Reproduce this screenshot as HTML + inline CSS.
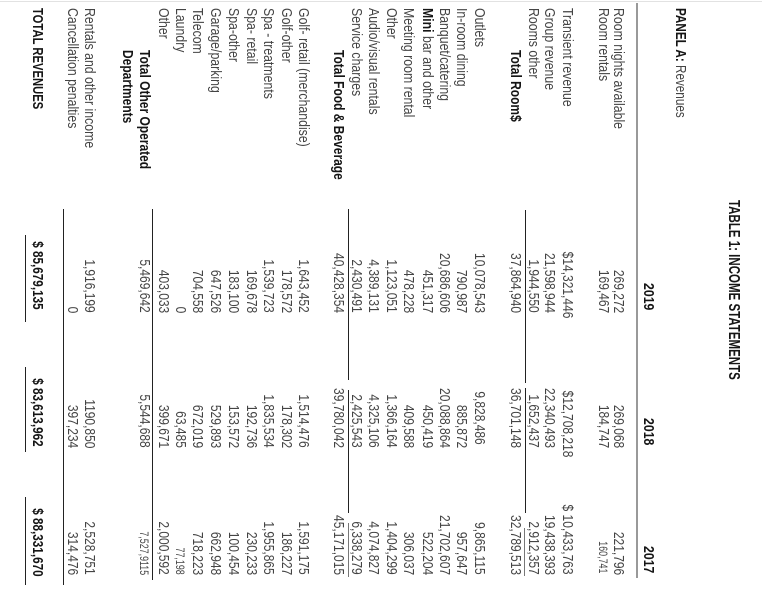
<!DOCTYPE html>
<html><head><meta charset="utf-8">
<style>
html,body{margin:0;padding:0;background:#fff;}
body{width:762px;height:592px;overflow:hidden;position:relative;font-family:"Liberation Sans",Arial,sans-serif;}
#topline{position:absolute;left:0;top:1px;width:762px;height:1px;background:#e2e2e2;}
#r{position:absolute;left:0;top:0;width:592px;height:762px;transform-origin:0 0;transform:translate(762px,0) rotate(90deg);}
.t{position:absolute;white-space:nowrap;font-size:15px;line-height:16px;height:16px;color:#444;}
.l{transform-origin:0 50%;transform:scaleX(.82);}
.lb{transform-origin:0 50%;transform:scaleX(.80);font-weight:bold;color:#151515;}
.n{transform-origin:100% 50%;transform:scaleX(.80);text-align:right;}
.nb{transform-origin:100% 50%;transform:scaleX(.78);text-align:right;font-weight:bold;color:#151515;}
.s{font-size:12px;transform:scaleX(.74);}
.ln{position:absolute;height:1px;background:#222;}
.g{background:#777;}
</style></head><body>
<div id="topline"></div>
<div id="r">
<div class="t" style="top:21px;left:200px;font-size:16px;font-weight:bold;color:#151515;transform-origin:0 50%;transform:scaleX(.72);">TABLE 1: INCOME STATEMENTS</div>
<div class="t" style="top:74px;left:8px;font-size:15px;transform-origin:0 50%;transform:scaleX(.78);color:#444;"><b style="color:#151515">PANEL A:</b> Revenues</div>
<div class="t nb" style="top:106px;right:282px;transform:scaleX(.82);">2019</div>
<div class="t nb" style="top:106px;right:147px;transform:scaleX(.82);">2018</div>
<div class="t nb" style="top:106px;right:19px;transform:scaleX(.82);">2017</div>
<div class="ln g" style="top:124px;left:3px;width:575px;height:2px;background:#999;"></div>

<div class="t l" style="top:136px;left:8px;">Room nights available</div>
<div class="t n" style="top:136px;right:279px;">269,272</div>
<div class="t n" style="top:136px;right:144px;">269,068</div>
<div class="t n" style="top:136px;right:17px;">221,796</div>

<div class="t l" style="top:151px;left:8px;">Room rentals</div>
<div class="t n" style="top:151px;right:279px;">169,467</div>
<div class="t n" style="top:151px;right:144px;">184,747</div>
<div class="t n s" style="top:151px;right:19px;">160,741</div>

<div class="t l" style="top:187px;left:8px;">Transient revenue</div>
<div class="t n" style="top:187px;right:274px;">$14,321,446</div>
<div class="t n" style="top:187px;right:135px;">$12,708,218</div>
<div class="t n" style="top:187px;right:17px;">$ 10,433,763</div>

<div class="t l" style="top:205px;left:8px;">Group revenue</div>
<div class="t n" style="top:205px;right:279px;">21,598,944</div>
<div class="t n" style="top:205px;right:144px;">22,340,493</div>
<div class="t n" style="top:205px;right:17px;">19,438,393</div>

<div class="t l" style="top:221px;left:8px;">Rooms other</div>
<div class="t n" style="top:221px;right:279px;">1,944,550</div>
<div class="t n" style="top:221px;right:144px;">1,652,437</div>
<div class="t n" style="top:221px;right:17px;">2,912,357</div>
<div class="ln" style="top:236px;left:210px;width:173px;"></div>
<div class="ln" style="top:236px;left:388px;width:125px;"></div>
<div class="ln g" style="top:237px;left:528px;width:48px;"></div>

<div class="t lb" style="top:239px;left:50px;">Total Room$</div>
<div class="t n" style="top:239px;right:279px;">37,864,940</div>
<div class="t n" style="top:239px;right:144px;">36,701,148</div>
<div class="t n" style="top:239px;right:17px;">32,789,513</div>

<div class="t l" style="top:275px;left:8px;">Outlets</div>
<div class="t n" style="top:275px;right:279px;">10,078,543</div>
<div class="t n" style="top:275px;right:147px;">9,828,486</div>
<div class="t n" style="top:275px;right:17px;">9,865,115</div>

<div class="t l" style="top:293px;left:8px;">In-room dining</div>
<div class="t n" style="top:293px;right:279px;">790,987</div>
<div class="t n" style="top:293px;right:144px;">885,872</div>
<div class="t n" style="top:293px;right:17px;">957,647</div>

<div class="t l" style="top:310px;left:8px;">Banquet/catering</div>
<div class="t n" style="top:310px;right:279px;">20,686,606</div>
<div class="t n" style="top:310px;right:144px;">20,088,864</div>
<div class="t n" style="top:310px;right:17px;">21,702,607</div>

<div class="t l" style="top:327px;left:8px;"><b style="color:#151515">Mini</b> bar and other</div>
<div class="t n" style="top:327px;right:279px;">451,317</div>
<div class="t n" style="top:327px;right:144px;">450,419</div>
<div class="t n" style="top:327px;right:17px;">522,204</div>

<div class="t l" style="top:346px;left:8px;">Meeting room rental</div>
<div class="t n" style="top:346px;right:279px;">478,228</div>
<div class="t n" style="top:346px;right:144px;">409,588</div>
<div class="t n" style="top:346px;right:17px;">306,037</div>

<div class="t l" style="top:363px;left:8px;">Other</div>
<div class="t n" style="top:363px;right:279px;">1,123,051</div>
<div class="t n" style="top:363px;right:144px;">1,366,164</div>
<div class="t n" style="top:363px;right:17px;">1,404,299</div>

<div class="t l" style="top:381px;left:8px;">Audio/visual rentals</div>
<div class="t n" style="top:381px;right:279px;">4,389,131</div>
<div class="t n" style="top:381px;right:144px;">4,325,106</div>
<div class="t n" style="top:381px;right:17px;">4,074,827</div>

<div class="t l" style="top:398px;left:8px;">Service charges</div>
<div class="t n" style="top:398px;right:279px;">2,430,491</div>
<div class="t n" style="top:398px;right:144px;">2,425,543</div>
<div class="t n" style="top:398px;right:17px;">6,338,279</div>
<div class="ln" style="top:413px;left:209px;width:171px;"></div>
<div class="ln" style="top:413px;left:390px;width:123px;"></div>
<div class="ln g" style="top:413px;left:523px;width:54px;"></div>

<div class="t lb" style="top:416px;left:50px;">Total Food &amp; Beverage</div>
<div class="t n" style="top:416px;right:279px;">40,428,354</div>
<div class="t n" style="top:416px;right:144px;">39,780,042</div>
<div class="t n" style="top:416px;right:17px;">45,171,015</div>

<div class="t l" style="top:451px;left:8px;">Golf- retail (merchandise)</div>
<div class="t n" style="top:451px;right:279px;">1,643,452</div>
<div class="t n" style="top:451px;right:144px;">1,514,476</div>
<div class="t n" style="top:451px;right:17px;">1,591,175</div>

<div class="t l" style="top:468px;left:8px;">Golf-other</div>
<div class="t n" style="top:468px;right:279px;">178,572</div>
<div class="t n" style="top:468px;right:144px;">178,302</div>
<div class="t n" style="top:468px;right:17px;">186,227</div>

<div class="t l" style="top:486px;left:8px;">Spa - treatments</div>
<div class="t n" style="top:486px;right:279px;">1,539,723</div>
<div class="t n" style="top:486px;right:144px;">1,835,534</div>
<div class="t n" style="top:486px;right:17px;">1,955,865</div>

<div class="t l" style="top:503px;left:8px;">Spa- retail</div>
<div class="t n" style="top:503px;right:279px;">169,678</div>
<div class="t n" style="top:503px;right:144px;">192,736</div>
<div class="t n" style="top:503px;right:17px;">230,233</div>

<div class="t l" style="top:521px;left:8px;">Spa-other</div>
<div class="t n" style="top:521px;right:279px;">183,100</div>
<div class="t n" style="top:521px;right:144px;">153,572</div>
<div class="t n" style="top:521px;right:17px;">100,454</div>

<div class="t l" style="top:539px;left:8px;">Garage/parking</div>
<div class="t n" style="top:539px;right:279px;">647,526</div>
<div class="t n" style="top:539px;right:144px;">529,893</div>
<div class="t n" style="top:539px;right:17px;">662,948</div>

<div class="t l" style="top:557px;left:8px;">Telecom</div>
<div class="t n" style="top:557px;right:279px;">704,558</div>
<div class="t n" style="top:557px;right:144px;">672,019</div>
<div class="t n" style="top:557px;right:17px;">718,223</div>

<div class="t l" style="top:574px;left:8px;">Laundry</div>
<div class="t n" style="top:574px;right:279px;">0</div>
<div class="t n" style="top:574px;right:144px;">63,485</div>
<div class="t n s" style="top:574px;right:17px;">77,198</div>

<div class="t l" style="top:591px;left:8px;">Other</div>
<div class="t n" style="top:591px;right:279px;">403,033</div>
<div class="t n" style="top:591px;right:144px;">399,671</div>
<div class="t n" style="top:591px;right:17px;">2,000,592</div>
<div class="ln" style="top:609px;left:209px;width:371px;"></div>

<div class="t lb" style="top:610px;left:50px;">Total Other Operated</div>
<div class="t n" style="top:610px;right:279px;">5,469,642</div>
<div class="t n" style="top:610px;right:144px;">5,544,688</div>
<div class="t n s" style="top:610px;right:17px;">7,527,9115</div>
<div class="t lb" style="top:627px;left:50px;">Departments</div>

<div class="t l" style="top:665px;left:8px;">Rentals and other income</div>
<div class="t n" style="top:665px;right:279px;">1,916,199</div>
<div class="t n" style="top:665px;right:144px;">1190,850</div>
<div class="t n" style="top:665px;right:17px;">2,528,751</div>

<div class="t l" style="top:682px;left:8px;">Cancellation penalties</div>
<div class="t n" style="top:682px;right:279px;">0</div>
<div class="t n" style="top:682px;right:144px;">397,234</div>
<div class="t n" style="top:682px;right:17px;">314,476</div>
<div class="ln" style="top:698px;left:209px;width:376px;"></div>

<div class="t lb" style="top:717px;left:8px;transform:scaleX(.75);">TOTAL REVENUES</div>
<div class="t nb" style="top:717px;right:282px;">$ 85,679,135</div>
<div class="t nb" style="top:717px;right:145px;">$ 83,613,962</div>
<div class="t nb" style="top:717px;right:15px;">$ 88,331,670</div>
<div class="ln" style="top:736px;left:235px;width:87px;"></div>
<div class="ln" style="top:736px;left:367px;width:85px;"></div>
<div class="ln" style="top:736px;left:497px;width:88px;"></div>
</div>
</body></html>
